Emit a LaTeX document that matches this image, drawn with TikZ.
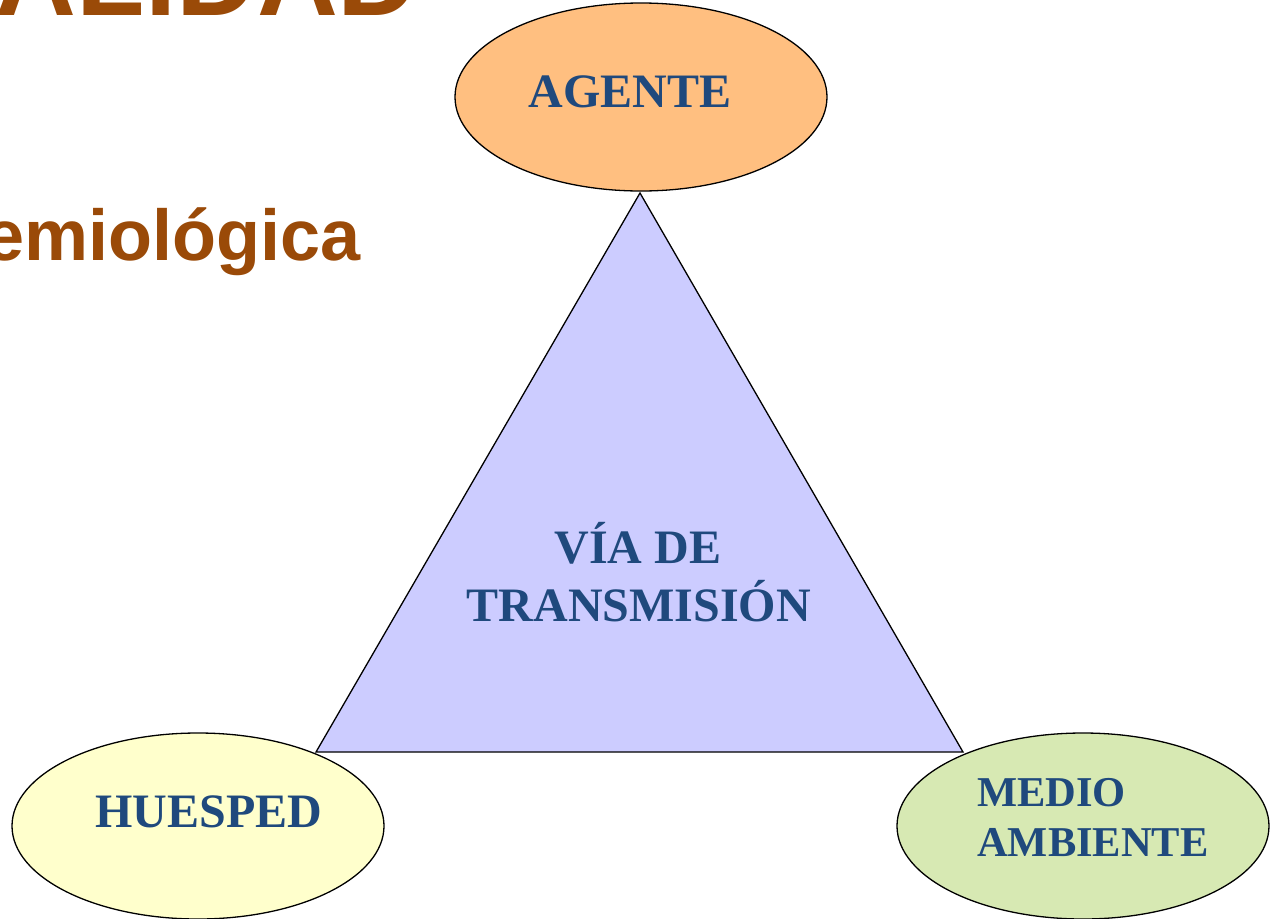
\documentclass[tikz,border=0pt]{standalone}
\usepackage{fontspec}
\setmainfont{Liberation Serif}
\newfontfamily\arialfont{Liberation Sans}
\usetikzlibrary{shapes.geometric}
\definecolor{titleor}{HTML}{9A4A08}
\definecolor{txtblue}{HTML}{1F497D}
\definecolor{agentefill}{HTML}{FFBF80}
\definecolor{trifill}{HTML}{CCCCFF}
\definecolor{huefill}{HTML}{FFFFCC}
\definecolor{mediofill}{HTML}{D7E9B3}
\tikzset{
  blob/.style={ellipse, draw=black, line width=1.3pt, minimum width=372pt, minimum height=188pt, inner sep=0pt},
  lbl/.style={text=txtblue, font=\bfseries\fontsize{48}{56}\selectfont, inner sep=0pt},
  lblsm/.style={lbl, font=\bfseries\fontsize{42.5}{50}\selectfont},
  ttl/.style={text=titleor, font=\arialfont\bfseries, inner sep=0pt, anchor=base east},
}
\begin{document}
\begin{tikzpicture}[x=1pt,y=-1pt]
\useasboundingbox (0,0) rectangle (1270,919);
% title fragments
\node[ttl, font=\arialfont\bfseries\fontsize{112}{112}\selectfont] (t1) at (419,15) {ALIDAD};
\node[ttl, font=\arialfont\bfseries\fontsize{72}{72}\selectfont] (t2) at (361,260) {emiológica};
% triangle
\coordinate (apex) at (640,193);
\coordinate (bl) at (316,752);
\coordinate (br) at (963,752);
\draw[fill=trifill, line width=1.3pt, line join=miter] (apex) -- (bl) -- (br) -- cycle;
% ellipses
\node[blob, fill=agentefill] (agente) at (641,97) {};
\node[blob, fill=huefill, minimum height=186pt] (huesped) at (198,826) {};
\node[blob, fill=mediofill, minimum height=186pt] (medio) at (1083,826) {};
% labels
\node[lbl, anchor=base] (tagente) at (630,107) {AGENTE};
\node[lbl, anchor=base] (thuesped) at (209,827) {HUESPED};
\node[lblsm, anchor=base west, align=left] (tmedio) at (977,806) {MEDIO};
\node[lblsm, anchor=base west, align=left] (tmedio2) at (977,856) {AMBIENTE};
\node[lbl, anchor=base] (tvia) at (638,563) {VÍA DE};
\node[lbl, anchor=base] (tvia2) at (639,621) {TRANSMISIÓN};
\end{tikzpicture}
\end{document}
